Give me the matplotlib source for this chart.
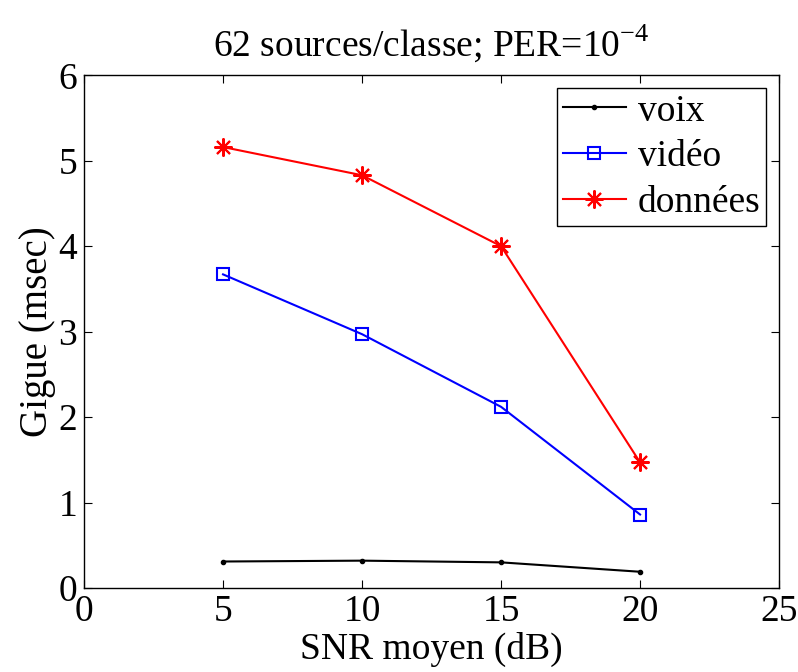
import matplotlib
matplotlib.use("Agg")
import matplotlib.pyplot as plt

snr = [5, 10, 15, 20]
voix = [0.31, 0.32, 0.30, 0.19]
video = [3.67, 2.97, 2.12, 0.86]
donnees = [5.16, 4.83, 4.00, 1.47]

plt.rcParams["font.family"] = ["Liberation Serif", "DejaVu Serif"]
plt.rcParams["mathtext.fontset"] = "custom"
plt.rcParams["mathtext.rm"] = "Liberation Serif"

fig = plt.figure(figsize=(7.98, 6.72), dpi=100)
ax = fig.add_axes([0.1053, 0.125, 0.871, 0.763])

ax.plot(snr, voix, color="black", marker=".", markersize=6, linewidth=1.5, label="voix")
ax.plot(snr, video, color="blue", marker="s", markersize=9, markerfacecolor="none",
        markeredgewidth=1.5, linewidth=1.5, label="vidéo")
ax.plot(snr, donnees, color="red", marker=(8, 2, 0), markersize=13,
        markeredgewidth=1.5, linewidth=1.5, label="données")

ax.set_xlim(0, 25)
ax.set_ylim(0, 6)
ax.set_xticks([0, 5, 10, 15, 20, 25])
ax.set_yticks([0, 1, 2, 3, 4, 5, 6])
ax.tick_params(direction="in", top=True, right=True, labelsize=27, length=6, pad=5)
for s in ax.spines.values():
    s.set_linewidth(1.0)

ax.set_title(r"62 sources/classe; PER=10$^{-4}$", fontsize=27, pad=14)
ax.set_xlabel("SNR moyen (dB)", fontsize=27, labelpad=2)
ax.set_ylabel("Gigue (msec)", fontsize=28, labelpad=2)

leg = ax.legend(loc="upper right", fontsize=27, fancybox=False, framealpha=1,
                edgecolor="black", handlelength=1.7, borderaxespad=0.35,
                labelspacing=0.3, handletextpad=0.3, borderpad=0.15)
leg.get_frame().set_linewidth(1.0)

fig.savefig("out.png", dpi=100)
